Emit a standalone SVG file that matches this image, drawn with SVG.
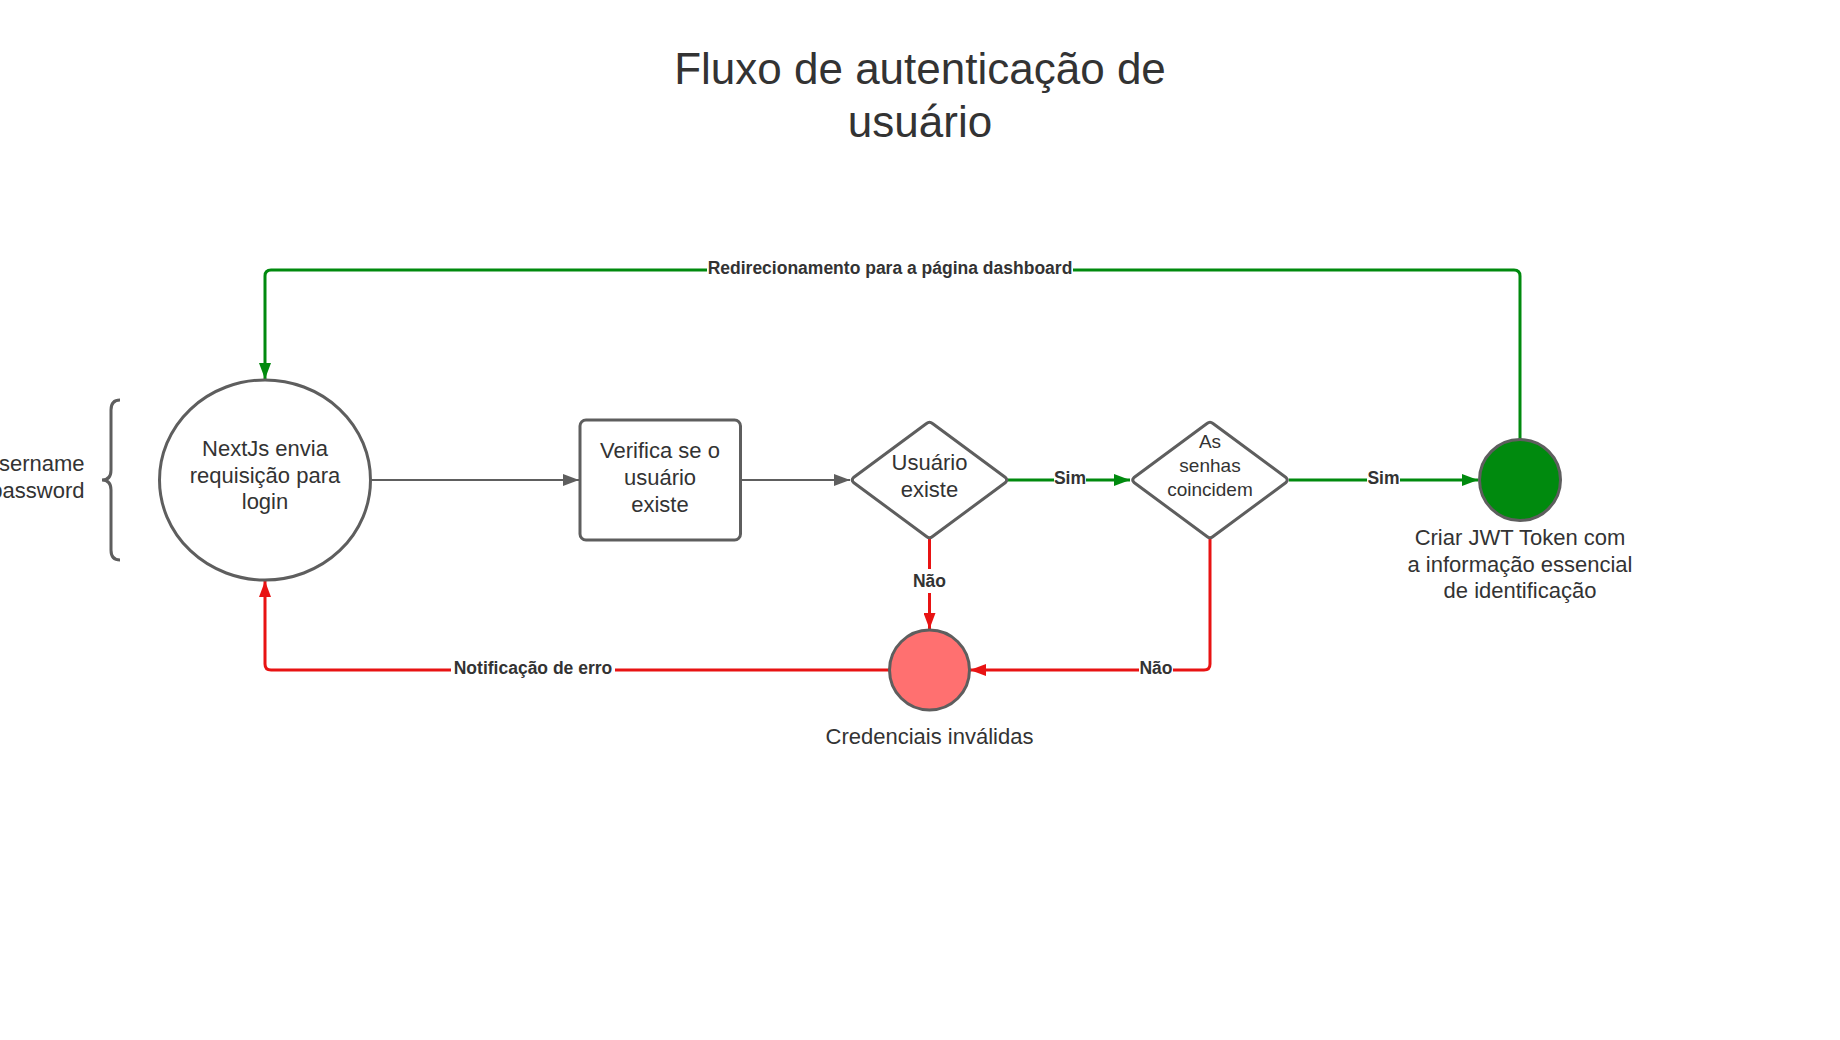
<svg xmlns="http://www.w3.org/2000/svg" width="1840" height="1040" viewBox="0 0 1840 1040">
<style>
.node{fill:#ffffff;stroke:#5e5e5e;stroke-width:3}
.t{font-family:"Liberation Sans",Arial,sans-serif;fill:#333333;text-anchor:middle}
.n22{font-size:22px}
.lbl{font-family:"Liberation Sans",Arial,sans-serif;font-size:17.5px;font-weight:bold;fill:#333333;text-anchor:middle}
.bg{fill:#ffffff}
.gray{fill:none;stroke:#5e5e5e;stroke-width:2}
.green{fill:none;stroke:#008a0e;stroke-width:3}
.red{fill:none;stroke:#e81313;stroke-width:3}
</style>
<defs>
<marker id="ag" viewBox="0 0 16 12" refX="16" refY="6" markerWidth="16" markerHeight="12" markerUnits="userSpaceOnUse" orient="auto"><path d="M0,0 L16,6 L0,12 z" fill="#5e5e5e"/></marker>
<marker id="agr" viewBox="0 0 16 12" refX="16" refY="6" markerWidth="16" markerHeight="12" markerUnits="userSpaceOnUse" orient="auto"><path d="M0,0 L16,6 L0,12 z" fill="#008a0e"/></marker>
<marker id="ar" viewBox="0 0 16 12" refX="16" refY="6" markerWidth="16" markerHeight="12" markerUnits="userSpaceOnUse" orient="auto"><path d="M0,0 L16,6 L0,12 z" fill="#e81313"/></marker>
</defs>
<rect width="1840" height="1040" fill="#ffffff"/>

<g id="title">
<text class="t" font-size="44" x="920" y="84">Fluxo de autenticação de</text>
<text class="t" font-size="44" x="920" y="137">usuário</text>
</g>

<g id="connectors">
<path class="gray" d="M371,480 L579,480" marker-end="url(#ag)"/>
<path class="gray" d="M741,480 L850,480" marker-end="url(#ag)"/>
<path class="green" d="M1008,480 L1130,480" marker-end="url(#agr)"/>
<path class="green" d="M1289,480 L1478,480" marker-end="url(#agr)"/>
<path class="green" d="M1520,439 L1520,276 Q1520,270 1514,270 L271,270 Q265,270 265,276 L265,379" marker-end="url(#agr)"/>
<path class="red" d="M929.5,539 L929.5,629" marker-end="url(#ar)"/>
<path class="red" d="M1210,539 L1210,664 Q1210,670 1204,670 L970,670" marker-end="url(#ar)"/>
<path class="red" d="M889,670 L271,670 Q265,670 265,664 L265,581" marker-end="url(#ar)"/>
<g id="labels">
<rect class="bg" x="707" y="258" width="366" height="22"/>
<text class="lbl" x="890" y="274">Redirecionamento para a página dashboard</text>
<rect class="bg" x="1054" y="469" width="32" height="20"/>
<text class="lbl" x="1070" y="484">Sim</text>
<rect class="bg" x="1367" y="469" width="33" height="20"/>
<text class="lbl" x="1383.5" y="484">Sim</text>
<rect class="bg" x="912" y="569" width="35" height="24"/>
<text class="lbl" x="929.5" y="587">Não</text>
<rect class="bg" x="1139" y="660" width="34" height="20"/>
<text class="lbl" x="1156" y="674">Não</text>
<rect class="bg" x="451" y="660" width="164" height="20"/>
<text class="lbl" x="533" y="674">Notificação de erro</text>
</g>
</g>

<g id="inputs">
<path d="M120,400 Q111,400 111,410 L111,470 Q111,480 102,480 Q111,480 111,490 L111,550 Q111,560 120,560" fill="none" stroke="#5e5e5e" stroke-width="3"/>
<text class="t n22" x="84.5" y="471" style="text-anchor:end">username</text>
<text class="t n22" x="84.5" y="498" style="text-anchor:end">password</text>
</g>

<g id="node-nextjs">
<ellipse class="node" cx="265" cy="480" rx="105.5" ry="100"/>
<text class="t n22" x="265" y="456">NextJs envia</text>
<text class="t n22" x="265" y="483">requisição para</text>
<text class="t n22" x="265" y="509">login</text>
</g>

<g id="node-verifica">
<rect class="node" x="580" y="420" width="160.5" height="120" rx="6"/>
<text class="t n22" x="660" y="458">Verifica se o</text>
<text class="t n22" x="660" y="485">usuário</text>
<text class="t n22" x="660" y="512">existe</text>
</g>

<g id="node-usuario-existe">
<path class="node" stroke-linejoin="round" d="M926.5,423.5 Q929.5,421 932.5,423.5 L1005.5,477.5 Q1008,480 1005.5,482.5 L932.5,536.5 Q929.5,539 926.5,536.5 L853.5,482.5 Q851,480 853.5,477.5 Z"/>
<text class="t n22" x="929.5" y="470">Usuário</text>
<text class="t n22" x="929.5" y="497">existe</text>
</g>

<g id="node-senhas">
<path class="node" stroke-linejoin="round" d="M1207,423.5 Q1210,421 1213,423.5 L1286,477.5 Q1288.5,480 1286,482.5 L1213,536.5 Q1210,539 1207,536.5 L1134,482.5 Q1131.5,480 1134,477.5 Z"/>
<text class="t" font-size="19" x="1210" y="448">As</text>
<text class="t" font-size="19" x="1210" y="472">senhas</text>
<text class="t" font-size="19" x="1210" y="496">coincidem</text>
</g>

<g id="node-jwt">
<circle cx="1520" cy="480" r="40.5" fill="#008a0e" stroke="#5e5e5e" stroke-width="3"/>
<text class="t n22" x="1520" y="545">Criar JWT Token com</text>
<text class="t n22" x="1520" y="572">a informação essencial</text>
<text class="t n22" x="1520" y="598">de identificação</text>
</g>

<g id="node-invalidas">
<circle cx="929.5" cy="670" r="40" fill="#ff7070" stroke="#5e5e5e" stroke-width="3"/>
<text class="t n22" x="929.5" y="744">Credenciais inválidas</text>
</g>
</svg>
